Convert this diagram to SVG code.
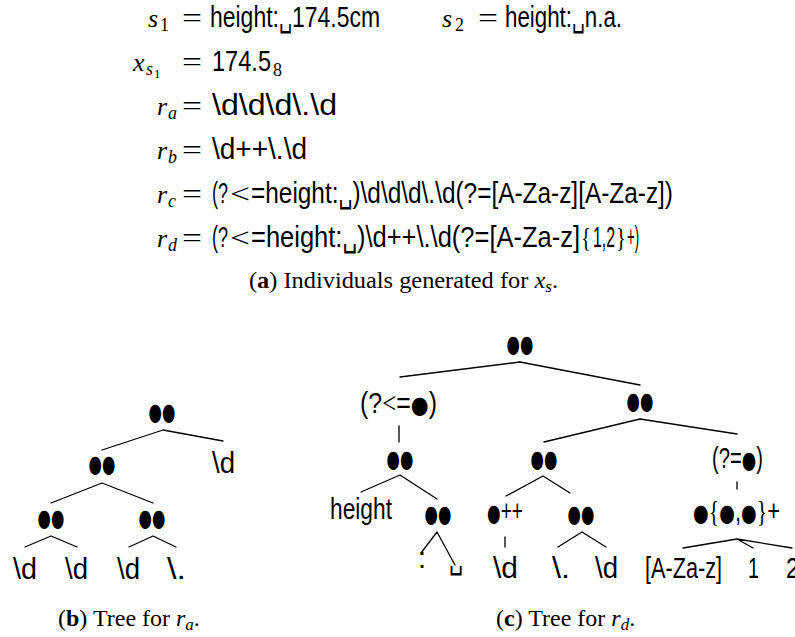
<svg xmlns="http://www.w3.org/2000/svg" width="795" height="637" viewBox="0 0 795 637">
<style>
.t{font-family:"Liberation Sans Narrow","Liberation Sans","DejaVu Sans Condensed",sans-serif;font-size:29px;fill:#000}
.m{font-family:"Liberation Serif","DejaVu Serif",serif;font-style:normal}
.mi{font-family:"Liberation Serif","DejaVu Serif",serif;font-style:italic;font-size:26px}
.ms{font-family:"Liberation Serif","DejaVu Serif",serif;font-style:italic;font-size:18px}
.mss{font-family:"Liberation Serif","DejaVu Serif",serif;font-style:normal;font-size:13px}
.mr{font-family:"Liberation Serif","DejaVu Serif",serif;font-size:18px}
.eq{font-family:"Liberation Serif","DejaVu Serif",serif;font-size:28px}
.br{font-family:"Liberation Serif","DejaVu Serif",serif;font-size:24px}
.bu{font-family:"DejaVu Sans",sans-serif;font-size:24px}
.bb{font-family:"DejaVu Sans",sans-serif;font-size:24px;text-anchor:middle}
.cap{font-family:"Liberation Serif","Times New Roman",serif;font-size:24px}
.e{stroke:#000;stroke-width:1.3;fill:none;stroke-linecap:round}
</style>

<g id="formulas">
  <g id="line-s1">
    <text class="mi" x="148" y="27">s</text><text class="mr" x="160" y="31">1</text>
    <text class="eq" x="182" y="27" textLength="20" lengthAdjust="spacingAndGlyphs">=</text>
    <text class="t" x="210" y="27" textLength="170" lengthAdjust="spacingAndGlyphs">height:␣174.5cm</text>
  </g>
  <g id="line-s2">
    <text class="mi" x="442" y="27">s</text><text class="mr" x="455" y="31">2</text>
    <text class="eq" x="478" y="27" textLength="20" lengthAdjust="spacingAndGlyphs">=</text>
    <text class="t" x="505" y="27" textLength="117" lengthAdjust="spacingAndGlyphs">height:␣n.a.</text>
  </g>
  <g id="line-x">
    <text class="mi" x="133" y="71">x</text><text class="ms" x="146" y="75">s</text><text class="mss" x="154" y="78">1</text>
    <text class="eq" x="182" y="71" textLength="20" lengthAdjust="spacingAndGlyphs">=</text>
    <text class="t" x="212" y="71" textLength="59" lengthAdjust="spacingAndGlyphs">174.5</text>
    <text class="mr" x="273" y="76">8</text>
  </g>
  <g id="line-ra">
    <text class="mi" x="157" y="115">r</text><text class="ms" x="168" y="119">a</text>
    <text class="eq" x="182" y="115" textLength="20" lengthAdjust="spacingAndGlyphs">=</text>
    <text class="t" x="212" y="115" textLength="125" lengthAdjust="spacingAndGlyphs">\d\d\d\.\d</text>
  </g>
  <g id="line-rb">
    <text class="mi" x="157" y="159">r</text><text class="ms" x="168" y="163">b</text>
    <text class="eq" x="182" y="159" textLength="20" lengthAdjust="spacingAndGlyphs">=</text>
    <text class="t" x="212" y="159" textLength="95" lengthAdjust="spacingAndGlyphs">\d++\.\d</text>
  </g>
  <g id="line-rc">
    <text class="mi" x="157" y="203">r</text><text class="ms" x="168" y="207">c</text>
    <text class="eq" x="182" y="203" textLength="20" lengthAdjust="spacingAndGlyphs">=</text>
    <text class="t" x="212" y="203" textLength="16" lengthAdjust="spacingAndGlyphs">(?</text>
    <text class="eq" x="230" y="203" textLength="20" lengthAdjust="spacingAndGlyphs">&lt;</text>
    <text class="t" x="251" y="203" textLength="422" lengthAdjust="spacingAndGlyphs">=height:␣)\d\d\d\.\d(?=[A-Za-z][A-Za-z])</text>
  </g>
  <g id="line-rd">
    <text class="mi" x="157" y="247">r</text><text class="ms" x="168" y="251">d</text>
    <text class="eq" x="182" y="247" textLength="20" lengthAdjust="spacingAndGlyphs">=</text>
    <text class="t" x="212" y="247" textLength="16" lengthAdjust="spacingAndGlyphs">(?</text>
    <text class="eq" x="230" y="247" textLength="20" lengthAdjust="spacingAndGlyphs">&lt;</text>
    <text class="t" x="251" y="247" textLength="329" lengthAdjust="spacingAndGlyphs">=height:␣)\d++\.\d(?=[A-Za-z]</text>
    <text class="eq" x="581" y="247" textLength="10" lengthAdjust="spacingAndGlyphs">{</text>
    <text class="t" x="593" y="247" textLength="22" lengthAdjust="spacingAndGlyphs">1,2</text>
    <text class="eq" x="616" y="247" textLength="10" lengthAdjust="spacingAndGlyphs">}</text>
    <text class="t" x="627" y="247" textLength="12" lengthAdjust="spacingAndGlyphs">+)</text>
  </g>
  <g id="caption-a">
    <text class="cap" x="249" y="288" textLength="309" lengthAdjust="spacingAndGlyphs">(<tspan font-weight="bold">a</tspan>) Individuals generated for <tspan font-style="italic">x</tspan><tspan font-style="italic" font-size="17" dy="4">s</tspan><tspan dy="-4">.</tspan></text>
  </g>
</g>

<g id="connectors">
  <path class="e" d="M163,430 L102,450 M163,430 L223,441 M102,483 L51,503 M102,483 L153,503 M51,536 L25,547 M51,536 L77,547 M153,536 L129,547 M153,536 L176,547"/>
  <path class="e" d="M520,362 L400,377 M520,362 L640,385 M399,426 L399,442 M640,419 L544,442 M640,419 L737,434 M737,482 L737,489 M400,475 L361,492 M400,475 L437,499 M543,476 L506,496 M543,476 L570,493 M437,532 L421,553 M437,532 L455,565 M505,537 L505,547 M582,532 L558,547 M582,532 L606,547 M737,539 L683,548 M737,539 L753,548 M737,539 L792,548"/>
</g>

<g id="tree-b">
  <g id="b-root"><text class="bb" x="162" y="420" textLength="27" lengthAdjust="spacingAndGlyphs">●●</text></g>
  <g id="b-d-right"><text class="t" x="212" y="473" textLength="23" lengthAdjust="spacingAndGlyphs">\d</text></g>
  <g id="b-n1"><text class="bb" x="102" y="472" textLength="27" lengthAdjust="spacingAndGlyphs">●●</text></g>
  <g id="b-n2"><text class="bb" x="51" y="526" textLength="27" lengthAdjust="spacingAndGlyphs">●●</text></g>
  <g id="b-n3"><text class="bb" x="152" y="526" textLength="27" lengthAdjust="spacingAndGlyphs">●●</text></g>
  <g id="b-l1"><text class="t" x="13" y="579" textLength="24" lengthAdjust="spacingAndGlyphs">\d</text></g>
  <g id="b-l2"><text class="t" x="65" y="579" textLength="23" lengthAdjust="spacingAndGlyphs">\d</text></g>
  <g id="b-l3"><text class="t" x="117" y="579" textLength="23" lengthAdjust="spacingAndGlyphs">\d</text></g>
  <g id="b-l4"><text class="t" x="167" y="579" textLength="19" lengthAdjust="spacingAndGlyphs">\.</text></g>
  <g id="caption-b"><text class="cap" x="58" y="626">(<tspan font-weight="bold">b</tspan>) Tree for <tspan font-style="italic">r</tspan><tspan font-style="italic" font-size="17" dy="4">a</tspan><tspan dy="-4">.</tspan></text></g>
</g>

<g id="tree-c">
  <g id="c-root"><text class="bb" x="520" y="352" textLength="27" lengthAdjust="spacingAndGlyphs">●●</text></g>
  <g id="c-lookbehind"><text class="t" x="360" y="413" textLength="77" lengthAdjust="spacingAndGlyphs">(?<tspan class="m">&lt;</tspan>=<tspan class="bu">●</tspan>)</text></g>
  <g id="c-n1"><text class="bb" x="640" y="409" textLength="27" lengthAdjust="spacingAndGlyphs">●●</text></g>
  <g id="c-n2"><text class="bb" x="400" y="467" textLength="27" lengthAdjust="spacingAndGlyphs">●●</text></g>
  <g id="c-n3"><text class="bb" x="544" y="467" textLength="27" lengthAdjust="spacingAndGlyphs">●●</text></g>
  <g id="c-lookahead"><text class="t" x="712" y="468" textLength="51" lengthAdjust="spacingAndGlyphs">(?=<tspan class="bu">●</tspan>)</text></g>
  <g id="c-height"><text class="t" x="330" y="519" textLength="62" lengthAdjust="spacingAndGlyphs">height</text></g>
  <g id="c-n4"><text class="bb" x="438" y="522" textLength="27" lengthAdjust="spacingAndGlyphs">●●</text></g>
  <g id="c-poss"><text class="t" x="487" y="521" textLength="36" lengthAdjust="spacingAndGlyphs"><tspan class="bu">●</tspan>++</text></g>
  <g id="c-n5"><text class="bb" x="581" y="522" textLength="27" lengthAdjust="spacingAndGlyphs">●●</text></g>
  <g id="c-quant"><text class="t" x="693" y="521" textLength="87" lengthAdjust="spacingAndGlyphs"><tspan class="bu">●</tspan><tspan class="m">{</tspan><tspan class="bu">●</tspan>,<tspan class="bu">●</tspan><tspan class="m">}</tspan>+</text></g>
  <g id="c-colon"><text class="t" x="418" y="568">:</text></g>
  <g id="c-space"><text class="t" x="449" y="569" textLength="14" lengthAdjust="spacingAndGlyphs">␣</text></g>
  <g id="c-d1"><text class="t" x="493" y="578" textLength="25" lengthAdjust="spacingAndGlyphs">\d</text></g>
  <g id="c-dot"><text class="t" x="552" y="578" textLength="18" lengthAdjust="spacingAndGlyphs">\.</text></g>
  <g id="c-d2"><text class="t" x="595" y="578" textLength="23" lengthAdjust="spacingAndGlyphs">\d</text></g>
  <g id="c-class"><text class="t" x="645" y="578" textLength="77" lengthAdjust="spacingAndGlyphs">[A-Za-z]</text></g>
  <g id="c-one"><text class="t" x="748" y="578" textLength="11" lengthAdjust="spacingAndGlyphs">1</text></g>
  <g id="c-two"><text class="t" x="786" y="578" textLength="13" lengthAdjust="spacingAndGlyphs">2</text></g>
  <g id="caption-c"><text class="cap" x="496" y="626">(<tspan font-weight="bold">c</tspan>) Tree for <tspan font-style="italic">r</tspan><tspan font-style="italic" font-size="17" dy="4">d</tspan><tspan dy="-4">.</tspan></text></g>
</g>
</svg>
